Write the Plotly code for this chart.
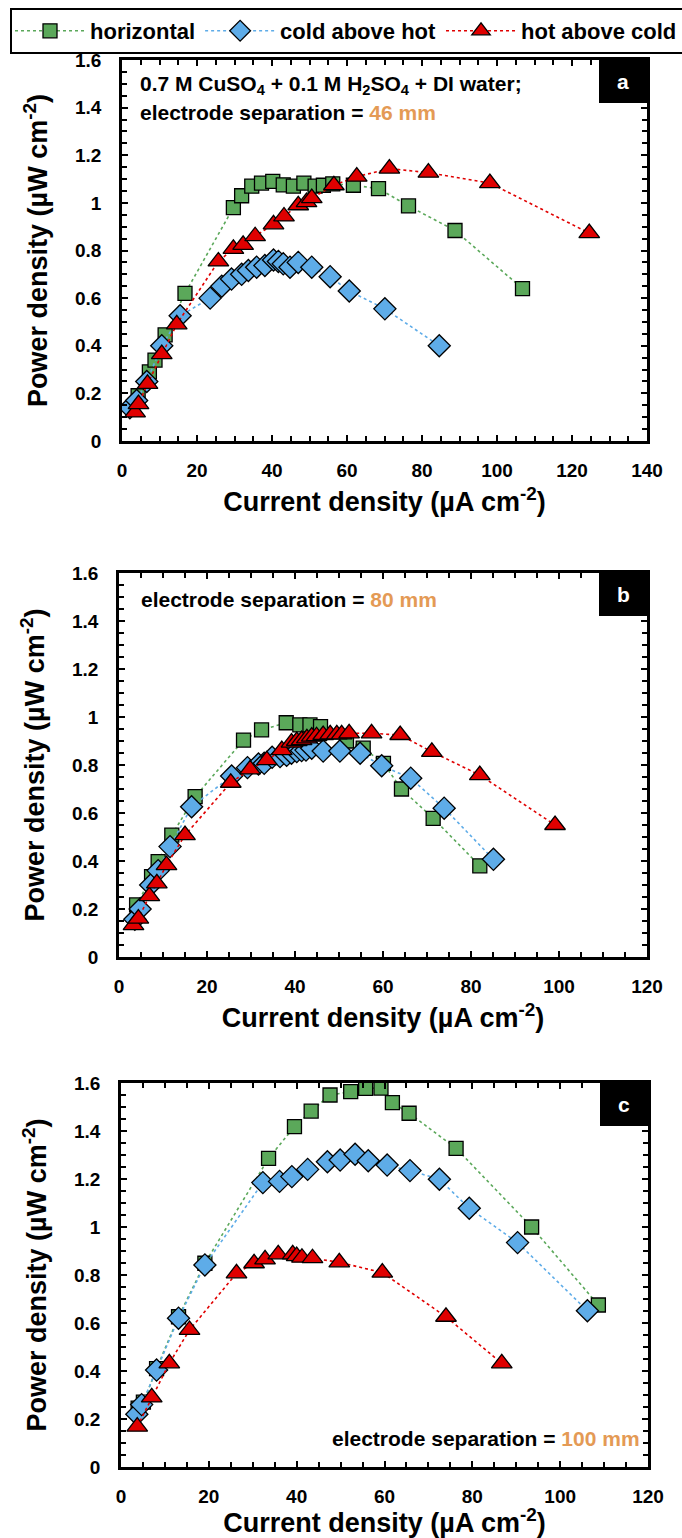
import plotly.graph_objects as go

# ---------------- data ----------------
# Panel a (46 mm)
a_h_x = [4.3, 7.3, 8.8, 11.5, 16.8, 29.7, 31.9, 34.6, 37.2, 40.2, 43.0, 45.7, 48.5, 51.5, 53.7, 56.2, 61.7, 68.4, 76.4, 88.8, 106.8]
a_h_y = [0.19, 0.29, 0.34, 0.446, 0.62, 0.98, 1.03, 1.07, 1.083, 1.09, 1.076, 1.07, 1.083, 1.07, 1.074, 1.08, 1.074, 1.06, 0.987, 0.884, 0.64]
a_c_x = [2.1, 3.9, 6.6, 10.6, 15.5, 23.5, 26.6, 29.2, 31.9, 33.7, 35.9, 38.1, 40.4, 41.7, 43.0, 44.8, 47.0, 50.6, 55.5, 60.6, 70.1, 84.6]
a_c_y = [0.14, 0.17, 0.25, 0.40, 0.526, 0.60, 0.65, 0.68, 0.70, 0.716, 0.73, 0.737, 0.76, 0.754, 0.744, 0.73, 0.75, 0.73, 0.69, 0.63, 0.555, 0.40]
a_t_x = [3.5, 4.4, 6.8, 10.6, 14.6, 25.7, 29.7, 32.3, 35.5, 40.4, 43.2, 47.0, 49.2, 50.6, 56.5, 62.6, 71.3, 81.7, 98.1, 124.6]
a_t_y = [0.12, 0.155, 0.24, 0.365, 0.49, 0.754, 0.807, 0.824, 0.86, 0.91, 0.943, 0.99, 1.003, 1.02, 1.074, 1.11, 1.144, 1.127, 1.083, 0.873]

# Panel b (80 mm)
b_h_x = [4.0, 7.4, 8.9, 12.0, 17.3, 28.3, 32.4, 38.0, 41.1, 43.4, 45.8, 51.7, 55.5, 60.1, 64.2, 71.4, 82.0]
b_h_y = [0.217, 0.335, 0.397, 0.508, 0.668, 0.904, 0.946, 0.976, 0.967, 0.967, 0.96, 0.90, 0.87, 0.807, 0.70, 0.578, 0.38]
b_c_x = [3.6, 4.8, 7.2, 8.9, 11.6, 16.5, 25.6, 29.2, 31.7, 33.0, 34.8, 36.6, 38.1, 39.2, 40.4, 41.5, 42.5, 43.8, 46.4, 50.2, 54.8, 59.7, 66.3, 73.9, 85.1]
b_c_y = [0.157, 0.20, 0.30, 0.36, 0.46, 0.626, 0.754, 0.789, 0.804, 0.807, 0.832, 0.835, 0.84, 0.849, 0.856, 0.86, 0.862, 0.87, 0.858, 0.858, 0.849, 0.797, 0.745, 0.62, 0.407]
b_t_x = [3.3, 4.4, 6.9, 8.6, 10.8, 15.0, 25.4, 29.8, 33.6, 37.0, 39.2, 40.4, 41.5, 42.7, 43.8, 44.9, 46.4, 48.0, 49.5, 50.6, 52.3, 57.4, 63.9, 71.1, 82.0, 99.1]
b_t_y = [0.133, 0.16, 0.254, 0.307, 0.383, 0.508, 0.726, 0.782, 0.82, 0.862, 0.893, 0.90, 0.904, 0.911, 0.918, 0.92, 0.925, 0.928, 0.928, 0.928, 0.932, 0.932, 0.925, 0.855, 0.758, 0.55]

# Panel c (100 mm)
c_h_x = [3.9, 5.1, 8.1, 13.1, 19.1, 33.6, 39.5, 43.3, 47.6, 52.3, 55.7, 59.2, 61.8, 65.6, 76.3, 93.5, 108.7]
c_h_y = [0.245, 0.27, 0.41, 0.626, 0.849, 1.286, 1.418, 1.483, 1.55, 1.564, 1.578, 1.579, 1.518, 1.474, 1.328, 1.00, 0.675]
c_c_x = [3.6, 4.7, 8.1, 13.1, 19.1, 32.3, 36.1, 38.9, 42.5, 47.0, 49.9, 53.3, 56.3, 60.6, 65.8, 72.5, 79.3, 90.3, 106.2]
c_c_y = [0.22, 0.26, 0.404, 0.62, 0.842, 1.185, 1.19, 1.21, 1.24, 1.272, 1.279, 1.303, 1.276, 1.258, 1.235, 1.199, 1.078, 0.935, 0.651]
c_t_x = [3.7, 7.0, 11.0, 15.6, 26.3, 30.3, 32.8, 35.8, 39.1, 40.0, 41.2, 43.6, 49.7, 59.5, 74.0, 86.7]
c_t_y = [0.168, 0.29, 0.432, 0.571, 0.807, 0.849, 0.865, 0.886, 0.886, 0.879, 0.872, 0.87, 0.853, 0.81, 0.626, 0.432]

series_names = ["horizontal", "cold above hot", "hot above cold"]
x_ranges = [[0, 140], [0, 120], [0, 120]]
panel_letters = ["a", "b", "c"]

# ---------------- styling ----------------
W, H = 682, 1538
FONT = "Liberation Sans, Arial, sans-serif"
ORANGE = "#E49A55"
styles = [
    dict(color="#5BA85A", symbol="square", size=14),
    dict(color="#5EACE8", symbol="diamond", size=17),
    dict(color="#E00000", symbol="triangle-up", size=18),
]
# plot-area pixel boxes (left, right, top, bottom)
boxes = [(122, 647, 60, 441), (119, 647, 573, 957), (121, 648, 1083, 1467)]

panels = [
    [(a_h_x, a_h_y), (a_c_x, a_c_y), (a_t_x, a_t_y)],
    [(b_h_x, b_h_y), (b_c_x, b_c_y), (b_t_x, b_t_y)],
    [(c_h_x, c_h_y), (c_c_x, c_c_y), (c_t_x, c_t_y)],
]

fig = go.Figure()
for p, series in enumerate(panels):
    suffix = "" if p == 0 else str(p + 1)
    for s, (xs, ys) in enumerate(series):
        st = styles[s]
        fig.add_trace(go.Scatter(
            x=xs, y=ys, mode="lines+markers", name=series_names[s],
            showlegend=(p == 0), legendgroup=series_names[s],
            xaxis="x" + suffix, yaxis="y" + suffix,
            line=dict(color=st["color"], width=1.6, dash="dot"),
            marker=dict(color=st["color"], symbol=st["symbol"], size=st["size"],
                        line=dict(color="black", width=1.3)),
        ))

layout = dict(
    width=W, height=H, margin=dict(l=0, r=0, t=0, b=0, autoexpand=False),
    paper_bgcolor="white", plot_bgcolor="white",
    font=dict(family=FONT, color="black"),
    showlegend=True,
    legend=dict(orientation="h", x=10 / W, y=1 - 8 / H, xanchor="left", yanchor="top",
                bordercolor="black", borderwidth=2, bgcolor="white",
                font=dict(size=22, family=FONT, color="black", weight="bold"),
                itemwidth=70, tracegroupgap=0),
)

for p, (l, r, t, b) in enumerate(boxes):
    suffix = "" if p == 0 else str(p + 1)
    xa = dict(
        domain=[l / W, r / W], range=x_ranges[p], anchor="y" + suffix,
        dtick=20, ticks="inside", ticklen=6, tickwidth=2, tickcolor="black",
        minor=dict(dtick=5, ticks="inside", ticklen=5, tickwidth=2, tickcolor="black"),
        showline=True, linewidth=2.5, linecolor="black", mirror="ticks",
        showgrid=False, zeroline=False,
        tickfont=dict(size=19, family=FONT, weight="bold"), ticklabelstandoff=10,
        title=dict(text="<b>Current density (µA cm<sup>-2</sup>)</b>", font=dict(size=27, family=FONT), standoff=13),
    )
    ya = dict(
        domain=[1 - b / H, 1 - t / H], range=[0, 1.6], anchor="x" + suffix,
        dtick=0.2, ticks="inside", ticklen=6, tickwidth=2, tickcolor="black",
        minor=dict(dtick=0.05, ticks="inside", ticklen=5, tickwidth=2, tickcolor="black"),
        showline=True, linewidth=2.5, linecolor="black", mirror="ticks",
        showgrid=False, zeroline=False, tickformat="~g",
        tickfont=dict(size=19, family=FONT, weight="bold"), ticklabelstandoff=14,
        title=dict(text="<b>Power density (µW cm<sup>-2</sup>)</b>", font=dict(size=27, family=FONT), standoff=20),
    )
    layout["xaxis" + suffix] = xa
    layout["yaxis" + suffix] = ya

fig.update_layout(**layout)

# panel letter boxes
for p, (l, r, t, b) in enumerate(boxes):
    suffix = "" if p == 0 else str(p + 1)
    fig.add_shape(type="rect", xref="x" + suffix + " domain", yref="y" + suffix + " domain",
                  x0=1 - 48 / (r - l), x1=1, y0=1 - 43 / (b - t), y1=1,
                  fillcolor="black", line=dict(color="black", width=0), layer="above")
    fig.add_annotation(xref="x" + suffix + " domain", yref="y" + suffix + " domain",
                       x=1 - 24 / (r - l), y=1 - 21.5 / (b - t), text="<b>" + panel_letters[p] + "</b>",
                       showarrow=False, font=dict(size=21, color="white", family=FONT),
                       xanchor="center", yanchor="middle")

# descriptive annotations
ANN = 21
fig.add_annotation(xref="x domain", yref="y domain", x=16 / 525, y=1 - 25 / 381,
                   xanchor="left", yanchor="middle", showarrow=False,
                   text="<b>0.7 M CuSO<sub>4</sub> + 0.1 M H<sub>2</sub>SO<sub>4</sub> + DI water;</b>",
                   font=dict(size=ANN, family=FONT, color="black"))
fig.add_annotation(xref="x domain", yref="y domain", x=16 / 525, y=1 - 52 / 381,
                   xanchor="left", yanchor="middle", showarrow=False,
                   text="<b>electrode separation = <span style='color:%s'>46 mm</span></b>" % ORANGE,
                   font=dict(size=ANN, family=FONT, color="black"))
fig.add_annotation(xref="x2 domain", yref="y2 domain", x=20 / 528, y=1 - 27 / 384,
                   xanchor="left", yanchor="middle", showarrow=False,
                   text="<b>electrode separation = <span style='color:%s'>80 mm</span></b>" % ORANGE,
                   font=dict(size=ANN, family=FONT, color="black"))
fig.add_annotation(xref="x3 domain", yref="y3 domain", x=1 - 6 / 527, y=29 / 384,
                   xanchor="right", yanchor="middle", showarrow=False,
                   text="<b>electrode separation = <span style='color:%s'>100 mm</span></b>" % ORANGE,
                   font=dict(size=ANN, family=FONT, color="black"))

fig.write_html("out.html")
